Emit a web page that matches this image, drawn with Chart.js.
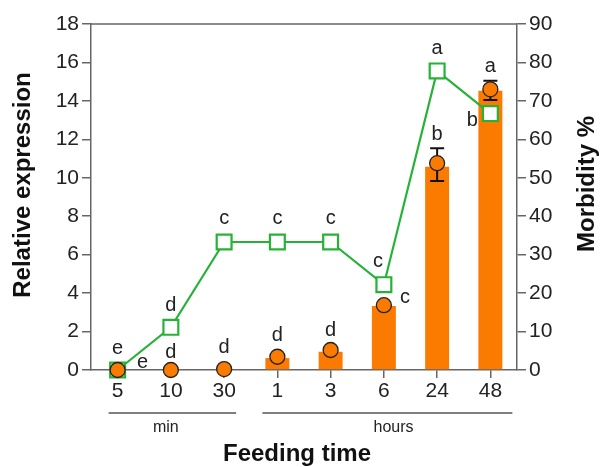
<!DOCTYPE html>
<html>
<head>
<meta charset="utf-8">
<script src="https://cdn.jsdelivr.net/npm/chart.js@4"></script>
<style>
html,body{margin:0;padding:0;background:#fff;}
#wrap{width:601px;height:467px;position:relative;}
</style>
</head>
<body>
<div id="wrap"><canvas id="c" width="601" height="467"></canvas></div>
<script>
const categories = ['5','10','30','1','3','6','24','48'];
const barExpression = [0, 0, 0, 0.62, 0.95, 3.33, 10.58, 14.53];
const circleExpression = [0, 0, 0.05, 0.69, 1.04, 3.37, 10.76, 14.6];
const errUpper = [null, null, null, null, null, null, 11.54, 15.05];
const errLower = [null, null, null, null, null, null, 9.83, 14.05];
const morbidity = [0, 11.1, 33.3, 33.3, 33.3, 22.2, 77.8, 66.7];
const morbidityLetters = ['e','d','c','c','c','c','a','b'];
const expressionLetters = ['e','d','d','d','d','c','b','a'];
const leftTicks = [0,2,4,6,8,10,12,14,16,18];
const rightTicks = [0,10,20,30,40,50,60,70,80,90];
const groupLabels = ['min','hours'];
const xTitle = 'Feeding time';
const yTitle = 'Relative expression';
const y2Title = 'Morbidity %';

const ORANGE = '#fb7a00';
const GREEN = '#26b236';
const AXIS = '#666';
const TEXT = '#222';
const FONT = '"Liberation Sans", Arial, sans-serif';
const NARROW = '"Liberation Sans Narrow", "Liberation Sans", Arial, sans-serif';

const overlay = {
  id: 'overlay',
  afterDatasetDraw(chart, args) {
    if (args.index !== 0) return;
    const ctx = chart.ctx, x = chart.scales.x, y = chart.scales.y;
    ctx.save();
    ctx.strokeStyle = '#111';
    ctx.lineWidth = 2;
    for (let i = 0; i < categories.length; i++) {
      if (errUpper[i] == null) continue;
      const px = x.getPixelForValue(i);
      const t = y.getPixelForValue(errUpper[i]);
      const b = y.getPixelForValue(errLower[i]);
      ctx.beginPath();
      ctx.moveTo(px, t); ctx.lineTo(px, b);
      ctx.moveTo(px - 7, t); ctx.lineTo(px + 7, t);
      ctx.moveTo(px - 7, b); ctx.lineTo(px + 7, b);
      ctx.stroke();
    }
    ctx.restore();
  },
  afterDraw(chart) {
    const ctx = chart.ctx, a = chart.chartArea;
    const x = chart.scales.x, y = chart.scales.y, y2 = chart.scales.y2;
    ctx.save();
    ctx.strokeStyle = AXIS;
    ctx.lineWidth = 1.5;
    ctx.beginPath();
    ctx.moveTo(a.left, a.top); ctx.lineTo(a.right, a.top);
    ctx.stroke();

    ctx.fillStyle = TEXT;
    ctx.font = '20px ' + NARROW;
    ctx.textAlign = 'center';
    ctx.textBaseline = 'middle';
    const mOff = [[25,-8],[0,-22],[0,-23],[0,-23],[0,-23],[-6,-23],[0,-22],[-18,7]];
    const eOff = [[0,-22],[0,-18],[0,-22],[0,-21],[0,-20],[21,-8],[0,-29],[0,-23]];
    for (let i = 0; i < categories.length; i++) {
      const px = x.getPixelForValue(i);
      ctx.fillText(morbidityLetters[i], px + mOff[i][0], y2.getPixelForValue(morbidity[i]) + mOff[i][1]);
      ctx.fillText(expressionLetters[i], px + eOff[i][0], y.getPixelForValue(circleExpression[i]) + eOff[i][1]);
    }

    ctx.strokeStyle = '#555';
    ctx.lineWidth = 1.5;
    const by = a.bottom + 43;
    const g1 = [x.getPixelForValue(0) - 9, x.getPixelForValue(2) + 12];
    const g2 = [x.getPixelForValue(3) - 15, x.getPixelForValue(7) + 22];
    ctx.beginPath();
    ctx.moveTo(g1[0], by); ctx.lineTo(g1[1], by);
    ctx.moveTo(g2[0], by); ctx.lineTo(g2[1], by);
    ctx.stroke();
    ctx.font = '16px ' + NARROW;
    ctx.fillStyle = TEXT;
    ctx.fillText(groupLabels[0], x.getPixelForValue(1) - 5, by + 15);
    ctx.fillText(groupLabels[1], (x.getPixelForValue(5) + x.getPixelForValue(6)) / 2 - 17, by + 15);

    ctx.font = 'bold 24px ' + FONT;
    ctx.fillStyle = '#111';
    ctx.fillText(xTitle, 297, 454);
    ctx.save();
    ctx.translate(23, 185);
    ctx.rotate(-Math.PI / 2);
    ctx.fillText(yTitle, 0, 0);
    ctx.restore();
    ctx.save();
    ctx.translate(587, 184);
    ctx.rotate(-Math.PI / 2);
    ctx.fillText(y2Title, 0, 0);
    ctx.restore();
    ctx.restore();
  }
};

const tickFont = { family: NARROW, size: 21 };

new Chart(document.getElementById('c'), {
  type: 'bar',
  data: {
    labels: categories,
    datasets: [
      {
        label: 'expression',
        data: barExpression,
        yAxisID: 'y',
        backgroundColor: ORANGE,
        borderWidth: 0,
        barPercentage: 0.45,
        categoryPercentage: 1,
        order: 3
      },
      {
        type: 'line',
        label: 'morbidity',
        data: morbidity,
        yAxisID: 'y2',
        borderColor: GREEN,
        borderWidth: 2.2,
        pointStyle: 'rect',
        pointRadius: 10.5,
        pointBackgroundColor: '#fff',
        pointBorderColor: GREEN,
        pointBorderWidth: 2.2,
        tension: 0,
        clip: false,
        order: 2
      },
      {
        type: 'line',
        label: 'expression mean',
        data: circleExpression,
        yAxisID: 'y',
        showLine: false,
        pointStyle: 'circle',
        pointRadius: 7.5,
        pointBackgroundColor: ORANGE,
        pointBorderColor: '#222',
        pointBorderWidth: 1.3,
        clip: false,
        order: 1
      }
    ]
  },
  options: {
    responsive: false,
    animation: false,
    events: [],
    layout: { padding: { top: 24, left: 0, right: 0, bottom: 0 } },
    plugins: { legend: { display: false }, tooltip: { enabled: false } },
    scales: {
      x: {
        offset: true,
        grid: { offset: false, drawOnChartArea: false, drawTicks: true, tickLength: 8, color: AXIS, lineWidth: 1.5 },
        border: { display: true, color: AXIS, width: 1.5 },
        ticks: { font: tickFont, color: TEXT, padding: 1, maxRotation: 0 },
        afterFit(s) { s.height = 97; }
      },
      y: {
        position: 'left',
        min: 0, max: 18,
        afterBuildTicks(s) { s.ticks = leftTicks.map(v => ({ value: v })); },
        grid: { drawOnChartArea: false, drawTicks: true, tickLength: 9, color: AXIS, lineWidth: 1.5 },
        border: { display: true, color: AXIS, width: 1.5 },
        ticks: { font: tickFont, color: TEXT, padding: 3 },
        afterFit(s) { s.width = 91; }
      },
      y2: {
        position: 'right',
        min: 0, max: 90,
        afterBuildTicks(s) { s.ticks = rightTicks.map(v => ({ value: v })); },
        grid: { drawOnChartArea: false, drawTicks: true, tickLength: 9, color: AXIS, lineWidth: 1.5 },
        border: { display: true, color: AXIS, width: 1.5 },
        ticks: { font: tickFont, color: TEXT, padding: 3 },
        afterFit(s) { s.width = 84; }
      }
    }
  },
  plugins: [overlay]
});
</script>
</body>
</html>
